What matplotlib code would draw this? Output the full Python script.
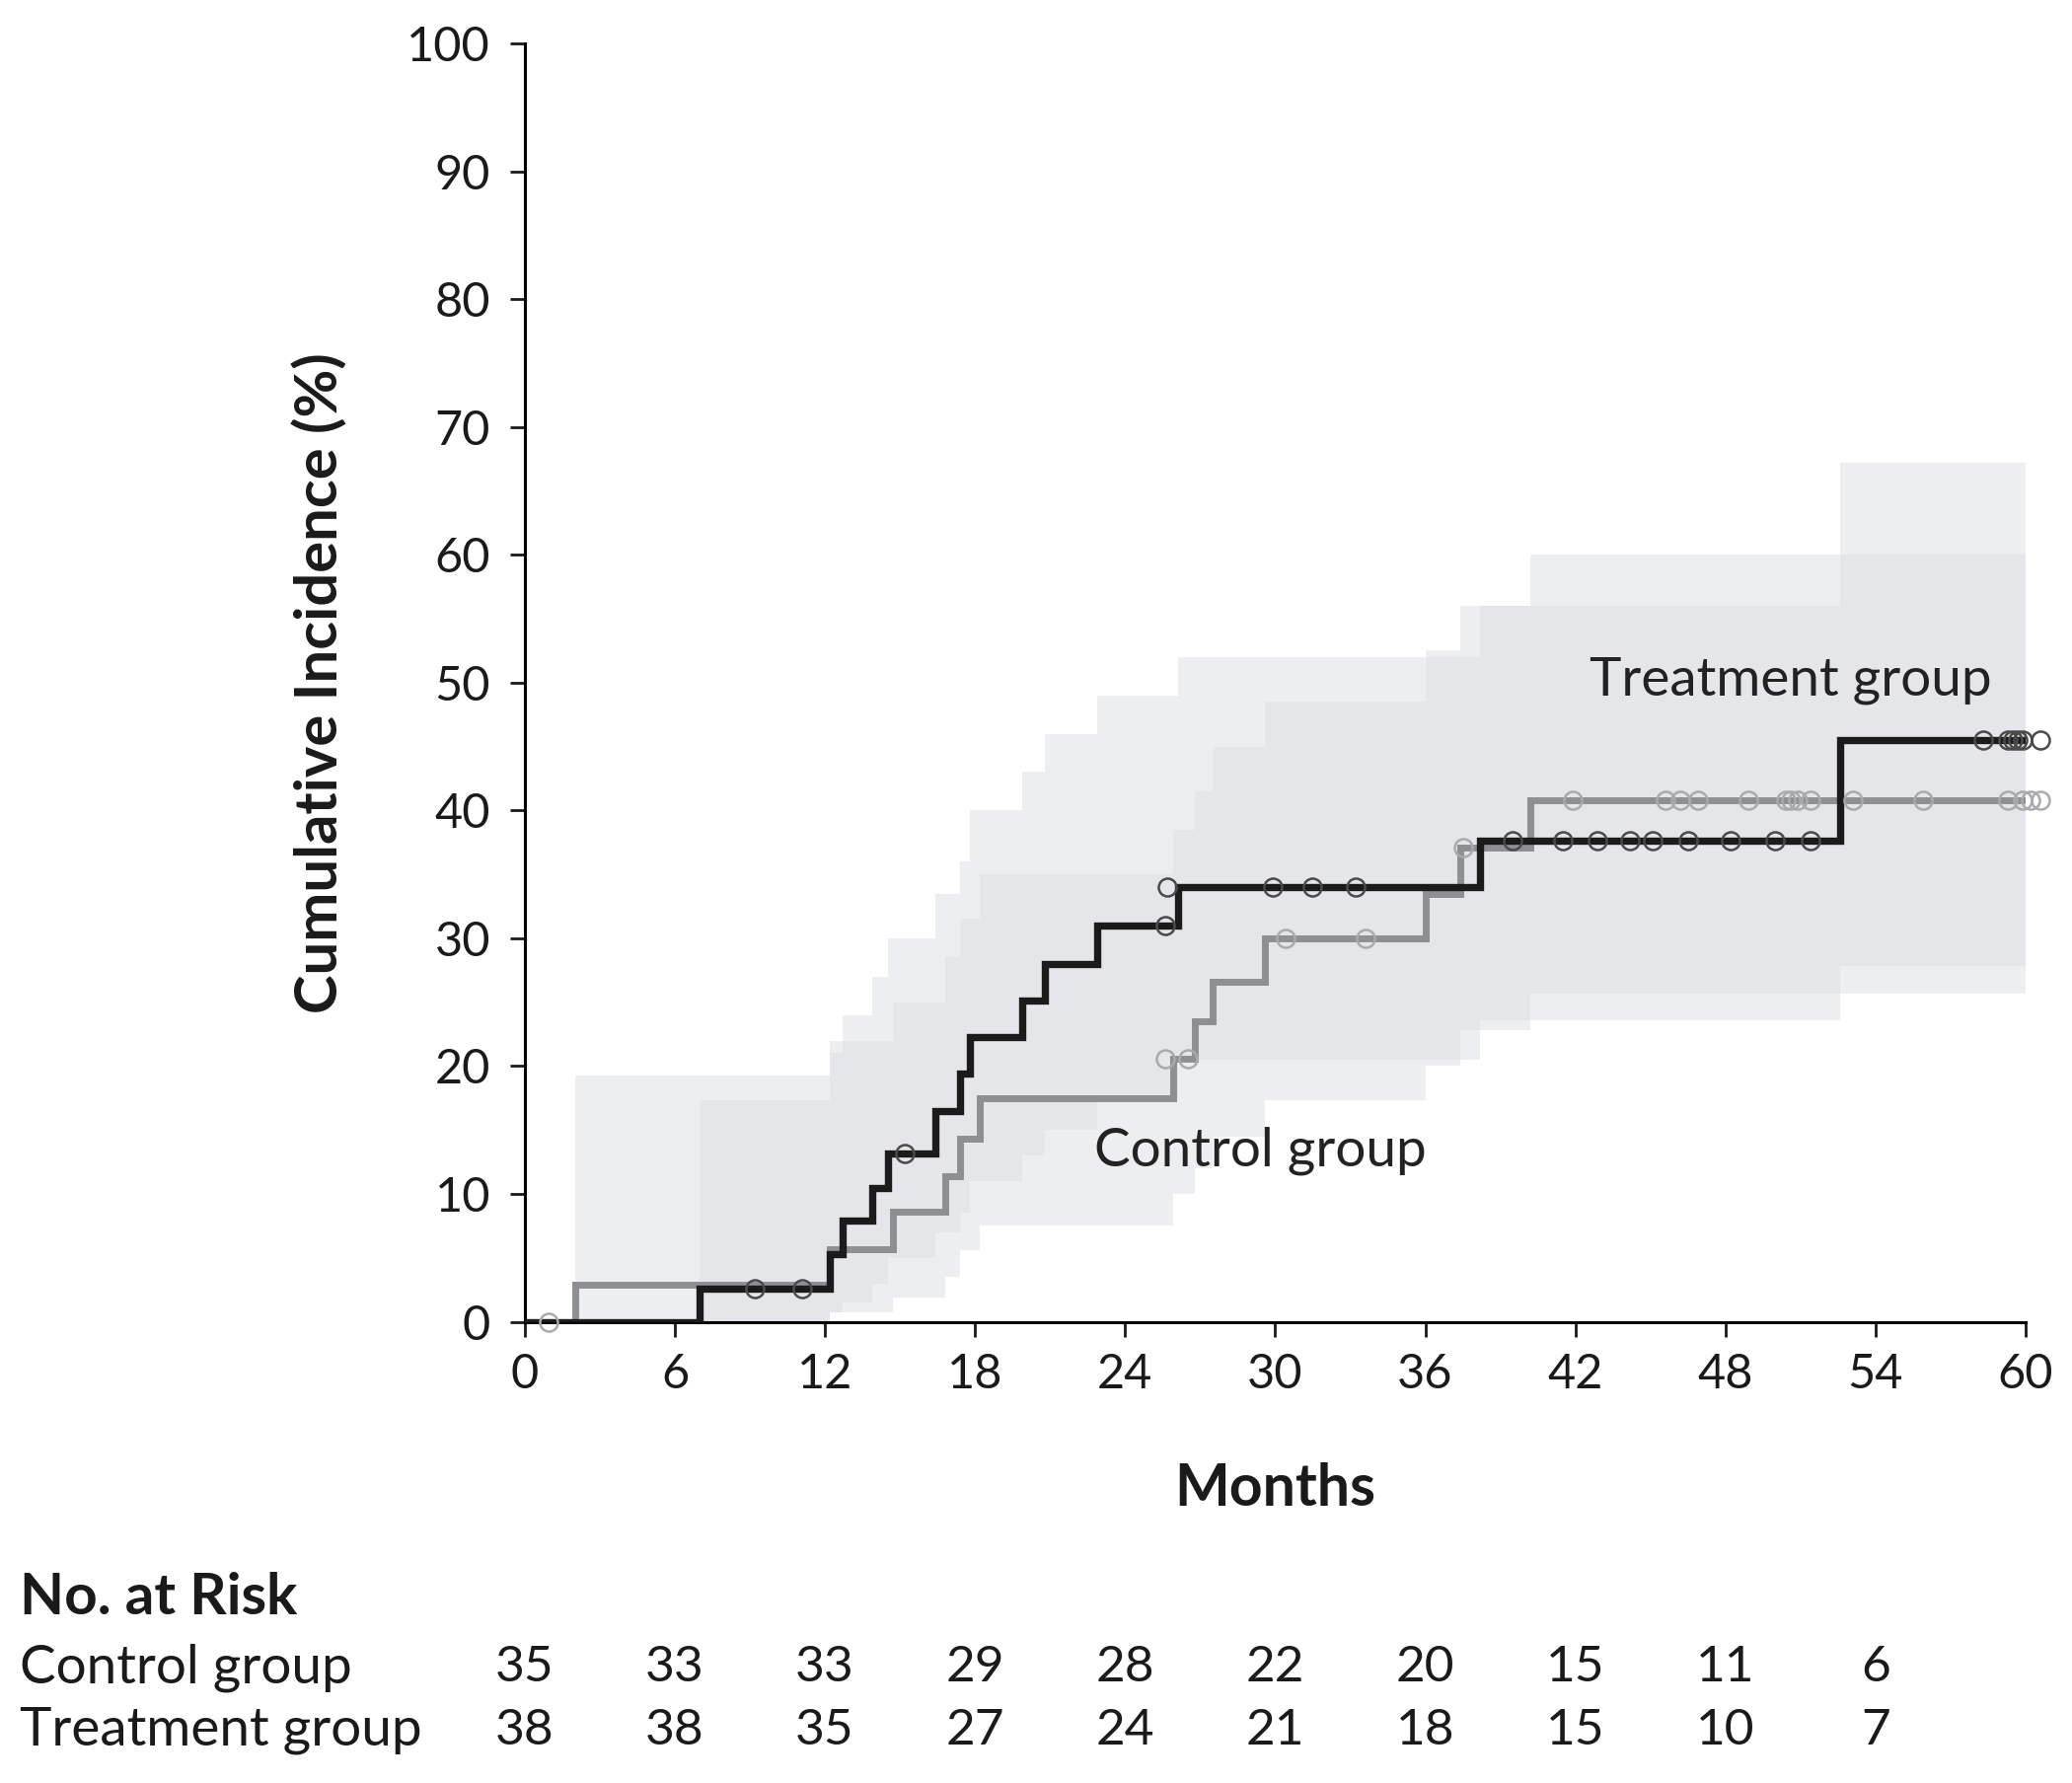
import matplotlib
matplotlib.use('Agg')
import matplotlib.pyplot as plt
import matplotlib.transforms as mtransforms

plt.rcParams['font.family'] = ['Lato', 'DejaVu Sans']

# ---- curves (cumulative incidence, %) ----
trt_t = [0, 7.0, 12.2, 12.7, 13.9, 14.5, 16.4, 17.4, 17.8, 19.9, 20.8, 22.9, 26.1, 38.2, 52.6, 60]
trt_y = [0, 2.6, 5.3, 7.9, 10.5, 13.2, 16.5, 19.4, 22.3, 25.1, 28.0, 31.0, 34.0, 37.6, 45.5, 45.5]
ctl_t = [0, 2.0, 12.2, 14.7, 16.8, 17.4, 18.2, 25.9, 26.8, 27.5, 29.6, 36.0, 37.4, 40.2, 60]
ctl_y = [0, 2.9, 5.7, 8.6, 11.4, 14.3, 17.5, 20.6, 23.5, 26.6, 30.0, 33.5, 37.1, 40.8, 40.8]

# ---- confidence bands ----
trt_ci_t = [7.0, 12.2, 12.7, 13.9, 14.5, 16.4, 17.4, 17.8, 19.9, 20.8, 22.9, 26.1, 38.2, 52.6, 60]
trt_lo = [0, 0.7, 1.5, 3.0, 5.0, 7.0, 8.5, 11.0, 13.0, 15.0, 17.5, 20.5, 23.6, 27.8, 27.8]
trt_hi = [17.3, 21.0, 24.0, 27.0, 30.0, 33.5, 36.0, 40.0, 43.0, 46.0, 49.0, 52.0, 56.0, 67.2, 67.2]
ctl_ci_t = [2.0, 12.2, 14.7, 16.8, 17.4, 18.2, 25.9, 26.8, 27.5, 29.6, 36.0, 37.4, 40.2, 60]
ctl_lo = [0, 0.7, 1.9, 3.5, 5.6, 7.5, 10.0, 12.0, 14.5, 17.3, 20.0, 22.8, 25.7, 25.7]
ctl_hi = [19.3, 22.0, 25.0, 28.5, 31.5, 35.0, 38.5, 41.5, 45.0, 48.5, 52.5, 56.0, 60.0, 60.0]

# ---- censored observations ----
trt_cens_t = [9.2, 11.1, 15.2, 25.6, 25.7, 29.9, 31.5, 33.2,
              39.5, 41.5, 42.9, 44.2, 45.1, 46.5, 48.2, 50.0, 51.4,
              58.3, 59.3, 59.5, 59.7, 59.9, 60.6]
trt_cens_y = [2.6, 2.6, 13.2, 31.0, 34.0, 34.0, 34.0, 34.0,
              37.6, 37.6, 37.6, 37.6, 37.6, 37.6, 37.6, 37.6, 37.6,
              45.5, 45.5, 45.5, 45.5, 45.5, 45.5]
ctl_cens_t = [0.95, 25.6, 26.5, 30.4, 33.6, 37.5,
              41.9, 45.6, 46.2, 46.9, 48.9, 50.4, 50.6, 50.9, 51.4, 53.1, 55.9,
              59.3, 59.9, 60.2, 60.6]
ctl_cens_y = [0, 20.6, 20.6, 30.0, 30.0, 37.1,
              40.8, 40.8, 40.8, 40.8, 40.8, 40.8, 40.8, 40.8, 40.8, 40.8, 40.8,
              40.8, 40.8, 40.8, 40.8]

# ---- number at risk ----
risk_times = [0, 6, 12, 18, 24, 30, 36, 42, 48, 54]
risk_ctl = [35, 33, 33, 29, 28, 22, 20, 15, 11, 6]
risk_trt = [38, 38, 35, 27, 24, 21, 18, 15, 10, 7]

fig = plt.figure(figsize=(21, 18.07), dpi=100)
ax = fig.add_axes([0.2533, 0.2587, 0.7243, 0.7169])

band_col = '#dfe1e5'
ax.fill_between(ctl_ci_t, ctl_lo, ctl_hi, step='post', color=band_col, alpha=0.55, lw=0, zorder=1)
ax.fill_between(trt_ci_t, trt_lo, trt_hi, step='post', color=band_col, alpha=0.55, lw=0, zorder=1)

ax.step(ctl_t, ctl_y, where='post', color='#8e8f92', lw=5.0, zorder=3, solid_joinstyle='miter')
ax.step(trt_t, trt_y, where='post', color='#1b1b1b', lw=5.3, zorder=4, solid_joinstyle='miter')

ax.plot(ctl_cens_t, ctl_cens_y, ls='none', marker='o', ms=13, mfc='none',
        mec='#a9aaad', mew=1.8, zorder=5, clip_on=False)
ax.plot(trt_cens_t, trt_cens_y, ls='none', marker='o', ms=13, mfc='none',
        mec='#4a4a4a', mew=1.8, zorder=6, clip_on=False)

ax.text(50.6, 50.2, 'Treatment group', fontsize=39.5, ha='center', va='center', color='#222222')
ax.text(29.4, 13.4, 'Control group', fontsize=39.5, ha='center', va='center', color='#222222')

ax.set_xlim(0, 60)
ax.set_ylim(0, 100)
ax.set_xticks(range(0, 61, 6))
ax.set_yticks(range(0, 101, 10))
for s in ['top', 'right']:
    ax.spines[s].set_visible(False)
for s in ['left', 'bottom']:
    ax.spines[s].set_linewidth(2.2)
ax.tick_params(axis='both', direction='out', length=11, width=2.0, labelsize=35, colors='#1a1a1a')
ax.tick_params(axis='y', pad=14)
ax.tick_params(axis='x', pad=12)

fig.text(325 / 2100, 1 - 692 / 1807, 'Cumulative Incidence (%)', rotation=90, fontsize=43,
         fontweight='bold', ha='center', va='center', color='#1a1a1a')
fig.text((532 + 2053) / 2 / 2100, 1 - 1509 / 1807, 'Months', fontsize=42.5, fontweight='bold',
         ha='center', va='center', color='#1a1a1a')

# risk table
tr = mtransforms.blended_transform_factory(ax.transData, fig.transFigure)
fig.text(20 / 2100, 1 - 1620 / 1807, 'No. at Risk', fontsize=42, fontweight='bold',
         ha='left', va='center', color='#1a1a1a')
fig.text(20 / 2100, 1 - 1690 / 1807, 'Control group', fontsize=39.5, ha='left', va='center', color='#1a1a1a')
fig.text(20 / 2100, 1 - 1754 / 1807, 'Treatment group', fontsize=39.5, ha='left', va='center', color='#1a1a1a')
for t, c, r in zip(risk_times, risk_ctl, risk_trt):
    ax.text(t, 1 - 1690 / 1807, str(c), transform=tr, fontsize=37, ha='center', va='center', color='#1a1a1a')
    ax.text(t, 1 - 1754 / 1807, str(r), transform=tr, fontsize=37, ha='center', va='center', color='#1a1a1a')

fig.savefig('out.png', dpi=100, facecolor='white')
